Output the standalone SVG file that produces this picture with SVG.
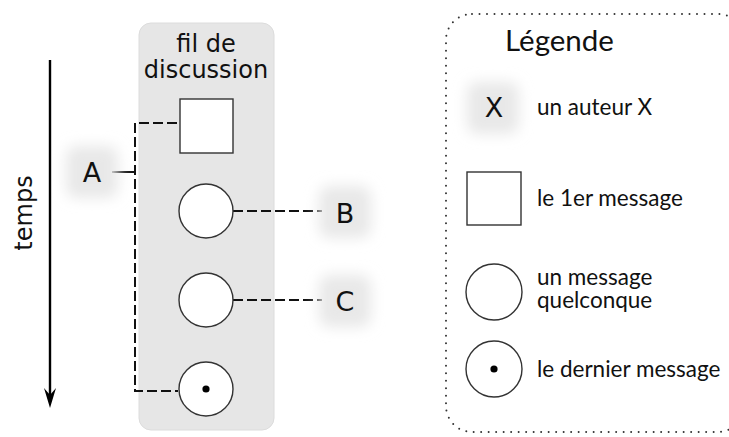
<svg xmlns="http://www.w3.org/2000/svg" width="729" height="437" viewBox="0 0 729 437">
<defs>
<style>
.lt{font-family:"DejaVu Sans",sans-serif;font-size:24px;fill:#111}
.au{font-family:"DejaVu Sans",sans-serif;font-size:27px;fill:#111;text-anchor:middle}
.lg{font-family:Lato,"Liberation Sans",sans-serif;fill:#111}
.sm{font-size:22.5px}
.shape{fill:#fff;stroke:#333;stroke-width:1.4}
.dash{fill:none;stroke:#111;stroke-width:2;stroke-dasharray:10 4}
.halo{fill:#e8e8e8;filter:url(#blur)}
</style>
<filter id="blur" x="-50%" y="-50%" width="200%" height="200%"><feGaussianBlur stdDeviation="7"/></filter>
</defs>
<g id="time">
<line x1="50" y1="60" x2="50" y2="398" stroke="#000" stroke-width="2.4"/>
<path d="M50,408 L44,388 L50,395 L56,388 Z" fill="#000"/>
<text class="lt" transform="translate(32,213) rotate(-90)" text-anchor="middle">temps</text>
</g>
<g id="thread">
<rect x="139" y="23" width="135" height="407" rx="12" fill="#e6e6e6" stroke="#dcdcdc"/>
<text class="lt" x="206" y="52" text-anchor="middle">fil de</text>
<text class="lt" x="206" y="78" text-anchor="middle">discussion</text>
</g>
<g id="connectors">
<polyline class="dash" points="177,123 135,123 135,391 178,391"/>
<line x1="112" y1="172" x2="135" y2="172" stroke="#111" stroke-width="2"/>
<line class="dash" x1="233" y1="211" x2="322" y2="211"/>
<line class="dash" x1="233" y1="300" x2="322" y2="300"/>
</g>
<g id="msg1"><rect class="shape" x="180" y="99" width="53" height="54"/></g>
<g id="msg2"><circle class="shape" cx="206" cy="211" r="27"/></g>
<g id="msg3"><circle class="shape" cx="206" cy="300" r="27"/></g>
<g id="msg4"><circle class="shape" cx="206" cy="389" r="27"/><circle cx="206" cy="389" r="3.6" fill="#000"/></g>
<g id="authorA"><rect class="halo" x="66" y="146" width="52" height="52" rx="10"/><text class="au" x="92" y="182">A</text></g>
<g id="authorB"><rect class="halo" x="319" y="186" width="52" height="52" rx="10"/><text class="au" x="345" y="222.5">B</text></g>
<g id="authorC"><rect class="halo" x="319" y="275" width="52" height="52" rx="10"/><text class="au" x="345" y="310.5">C</text></g>
<g id="legend">
<rect x="446" y="14" width="298" height="418" rx="26" fill="none" stroke="#333" stroke-width="2" stroke-linecap="round" stroke-dasharray="0 7.5"/>
<text class="lg" x="505" y="51" font-size="29.5">Légende</text>
<rect class="halo" x="467" y="82" width="52" height="52" rx="10"/>
<text class="au" x="494" y="117">X</text>
<text class="lg sm" x="537" y="115">un auteur X</text>
<rect class="shape" x="467" y="172" width="54" height="53"/>
<text class="lg sm" x="537" y="206">le 1er message</text>
<circle class="shape" cx="494" cy="292" r="28"/>
<text class="lg sm" x="537" y="285">un message</text>
<text class="lg sm" x="537" y="308">quelconque</text>
<circle class="shape" cx="494" cy="369" r="28"/>
<circle cx="494" cy="369" r="3.6" fill="#000"/>
<text class="lg sm" x="537" y="377">le dernier message</text>
</g>
</svg>
